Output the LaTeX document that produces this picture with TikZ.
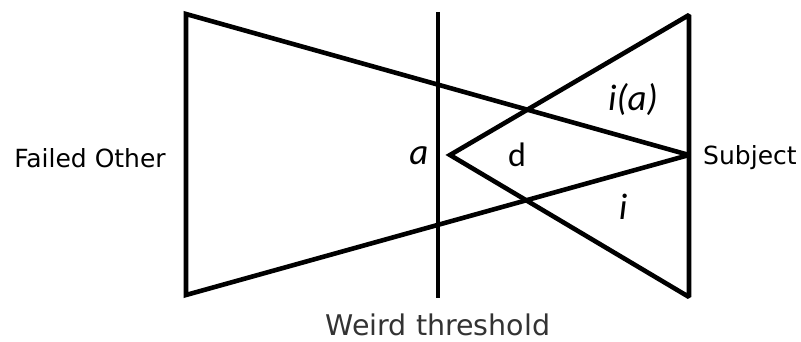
\documentclass[tikz,border=0pt]{standalone}
\usepackage{fontspec}
\setmainfont{DejaVu Sans}
\newfontfamily\calfont{Carlito}
\begin{document}
\begin{tikzpicture}[x=1pt,y=-1pt,
  edge/.style={line width=4.6pt,line join=miter,miter limit=1.99,line cap=butt},
  lbl/.style={inner sep=0pt,font=\fontsize{25}{30}\selectfont},
  ital/.style={inner sep=0pt,font=\calfont\itshape\fontsize{37}{44}\selectfont},
  upr/.style={inner sep=0pt,font=\calfont\fontsize{34}{40}\selectfont}]
\useasboundingbox (0,0) rectangle (801,342);
% coordinates
\coordinate (LT) at (186,14);
\coordinate (LB) at (186,295);
\coordinate (S) at (689,155);
\coordinate (RT) at (689,15);
\coordinate (RB) at (689,297);
\coordinate (A) at (450,155);
\coordinate (TT) at (438,12);
\coordinate (TB) at (438,298);
% shapes
\draw[edge] (LT) -- (S) -- (LB) -- cycle;
\draw[edge] (RT) -- (A) -- (RB) -- cycle;
\draw[edge] (TT) -- (TB);
% labels
\node[lbl] (fo) at (90,158) {Failed Other};
\node[lbl,anchor=west] (sub) at (703,158) {Subject};
\node[lbl,anchor=base,font=\fontsize{28.5}{34}\selectfont,text=black!80] (wt) at (438,335) {Weird threshold};
\node[ital,anchor=base] (la) at (419,165) {a};
\node[upr,anchor=base] (ld) at (517,167) {d};
\node[ital,anchor=base] (lia) at (633,111) {i(a)};
\node[ital,anchor=base] (li) at (623,219) {i};
\end{tikzpicture}
\end{document}
